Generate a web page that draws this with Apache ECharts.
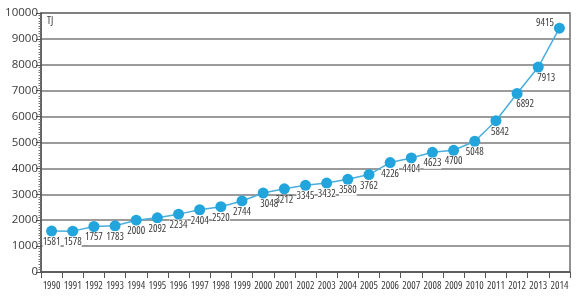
<!DOCTYPE html>
<html>
<head>
<meta charset="utf-8">
<script src="https://cdn.jsdelivr.net/npm/echarts@6/dist/echarts.min.js"></script>
<style>
html,body{margin:0;padding:0;background:#fff;}
#chart{width:577px;height:299px;}
</style>
</head>
<body>
<div id="chart"></div>
<script>
const years = ['1990','1991','1992','1993','1994','1995','1996','1997','1998','1999','2000','2001','2002','2003','2004','2005','2006','2007','2008','2009','2010','2011','2012','2013','2014'];
const values = [1581,1578,1757,1783,2000,2092,2234,2404,2520,2744,3048,3212,3345,3432,3580,3762,4226,4404,4623,4700,5048,5842,6892,7913,9415];
const yTicks = [0,1000,2000,3000,4000,5000,6000,7000,8000,9000,10000];
const unitLabel = 'TJ';

const FONT = '"Open Sans","Roboto",sans-serif';
// horizontal label shift (px, to the right) per year
const labelShift = {'2000':6,'2011':4,'2012':8,'2013':8};
const clearLabel = {'2001':true};

const data = values.map((v,i)=>{
  const y = years[i];
  const d = {value:v};
  if (y === '2014') {
    d.label = {position:'left', verticalAlign:'bottom', distance:0, backgroundColor:'transparent'};
  } else if (labelShift[y]) {
    d.label = {padding:[0,0,0,2*labelShift[y]], backgroundColor:'transparent'};
  } else if (clearLabel[y]) {
    d.label = {backgroundColor:'transparent'};
  }
  return d;
});

const chart = echarts.init(document.getElementById('chart'), null, {renderer:'canvas'});
chart.setOption({
  animation:false,
  backgroundColor:'#fff',
  grid:{left:41,right:7,top:13,bottom:27,outerBoundsMode:'none',containLabel:false,show:true,borderColor:'#6e6e6e',borderWidth:1.5},
  xAxis:{
    type:'category',
    data:years,
    boundaryGap:true,
    axisLine:{lineStyle:{color:'#555',width:1.5}},
    axisTick:{show:true,length:6,lineStyle:{color:'#555',width:1}},
    axisLabel:{color:'#3a3a3a',fontFamily:FONT,fontWeight:'condensed',fontSize:10.5,margin:9,interval:0}
  },
  yAxis:{
    type:'value',
    min:yTicks[0],max:yTicks[yTicks.length-1],interval:1000,
    axisLine:{show:true,lineStyle:{color:'#555',width:1.5}},
    axisTick:{show:true,length:5,lineStyle:{color:'#555',width:1}},
    minorTick:{show:true,splitNumber:10,length:2.5,lineStyle:{color:'#777',width:1}},
    splitLine:{show:true,lineStyle:{color:'#7a7a7a',width:1.5}},
    axisLabel:{color:'#3a3a3a',fontFamily:FONT,fontSize:11.5,margin:3,formatter:v=>String(v)}
  },
  graphic:[{type:'text',left:47,top:16,style:{text:unitLabel,fill:'#3a3a3a',font:'condensed 10.5px '+FONT}}],
  series:[{
    type:'line',
    data:data,
    symbol:'circle',
    symbolSize:11,
    lineStyle:{color:'#4aaedd',width:1.5},
    itemStyle:{color:'#22a5dd'},
    label:{
      show:true,
      position:'bottom',
      distance:0,
      color:'#3a3a3a',
      fontFamily:FONT,
      fontWeight:'condensed',
      fontSize:10.5,
      backgroundColor:'#fff',
      padding:[0,0,0,0]
    },
    labelLayout:{hideOverlap:false},
    z:3
  }]
});
</script>
</body>
</html>
